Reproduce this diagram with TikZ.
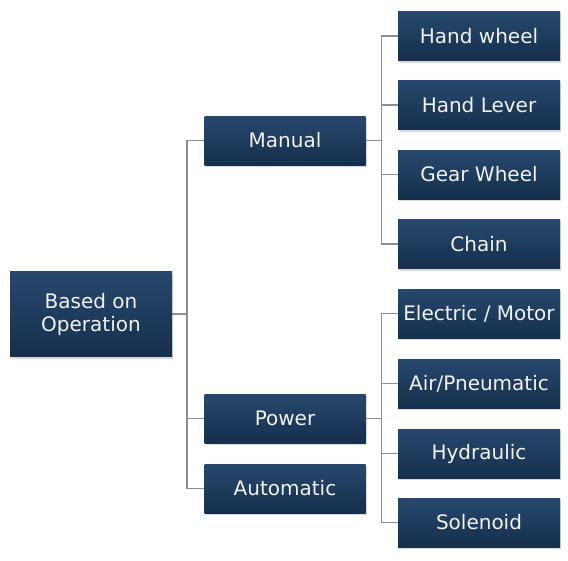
\documentclass[tikz,border=0pt]{standalone}
\usepackage{fontspec}
\setmainfont{DejaVu Sans}
\usetikzlibrary{shadows}
\definecolor{boxtop}{HTML}{27486E}
\definecolor{boxbot}{HTML}{152F4C}
\definecolor{linkgray}{HTML}{8E8E8E}
\tikzset{
	catbox/.style={rectangle, top color=boxtop, bottom color=boxbot, text=white!95!black, font=\fontsize{20}{23}\selectfont, align=center, inner sep=0pt, drop shadow={shadow xshift=1.2pt, shadow yshift=-2pt, opacity=0.3}},
	leafbox/.style={catbox, minimum width=162pt, minimum height=49pt},
	midbox/.style={catbox, minimum width=161pt, minimum height=49pt},
	link/.style={draw=linkgray, line width=1.1pt}
}

\begin{document}
\begin{tikzpicture}[x=1pt, y=-1pt]
			%%%%% START %%%%%
			\useasboundingbox (0, 0) rectangle (568, 560);
			
			\node[catbox, minimum width=162pt, minimum height=85pt] (op) at (91, 314) {Based on\\Operation};
			
			\node[midbox] (manual) at (285, 140.5) {Manual};
			\node[midbox] (power) at (285, 418.5) {Power};
			\node[midbox] (auto) at (285, 488.5) {Automatic};
			
			\node[leafbox] (handwheel) at (479, 36) {Hand wheel};
			\node[leafbox] (handlever) at (479, 105) {Hand Lever};
			\node[leafbox] (gearwheel) at (479, 174.5) {Gear Wheel};
			\node[leafbox] (chain) at (479, 244) {Chain};
			
			\node[leafbox] (electric) at (479, 313.5) {Electric / Motor};
			\node[leafbox] (pneumatic) at (479, 383.5) {Air/Pneumatic};
			\node[leafbox] (hydraulic) at (479, 453.5) {Hydraulic};
			\node[leafbox] (solenoid) at (479, 522.5) {Solenoid};
			
			\coordinate (opspine) at (187, 0);
			\coordinate (manualspine) at (381.5, 0);
			\coordinate (powerspine) at (381.5, 0);
			
			\draw[link] (op.east) -- (opspine |- op.east);
			\draw[link] (manual.west) -- (opspine |- manual.west) -- (opspine |- auto.west) -- (auto.west);
			\draw[link] (power.west) -- (opspine |- power.west);
			
			\draw[link] (manual.east) -- (manualspine |- manual.east);
			\draw[link] (handwheel.west) -- (manualspine |- handwheel.west) -- (manualspine |- chain.west) -- (chain.west);
			\foreach \leaf in {handlever, gearwheel}
				\draw[link] (\leaf.west) -- (manualspine |- \leaf.west);
			
			\draw[link] (power.east) -- (powerspine |- power.east);
			\draw[link] (electric.west) -- (powerspine |- electric.west) -- (powerspine |- solenoid.west) -- (solenoid.west);
			\foreach \leaf in {pneumatic, hydraulic}
				\draw[link] (\leaf.west) -- (powerspine |- \leaf.west);
			%%%%% END %%%%%
\end{tikzpicture}
\end{document}
